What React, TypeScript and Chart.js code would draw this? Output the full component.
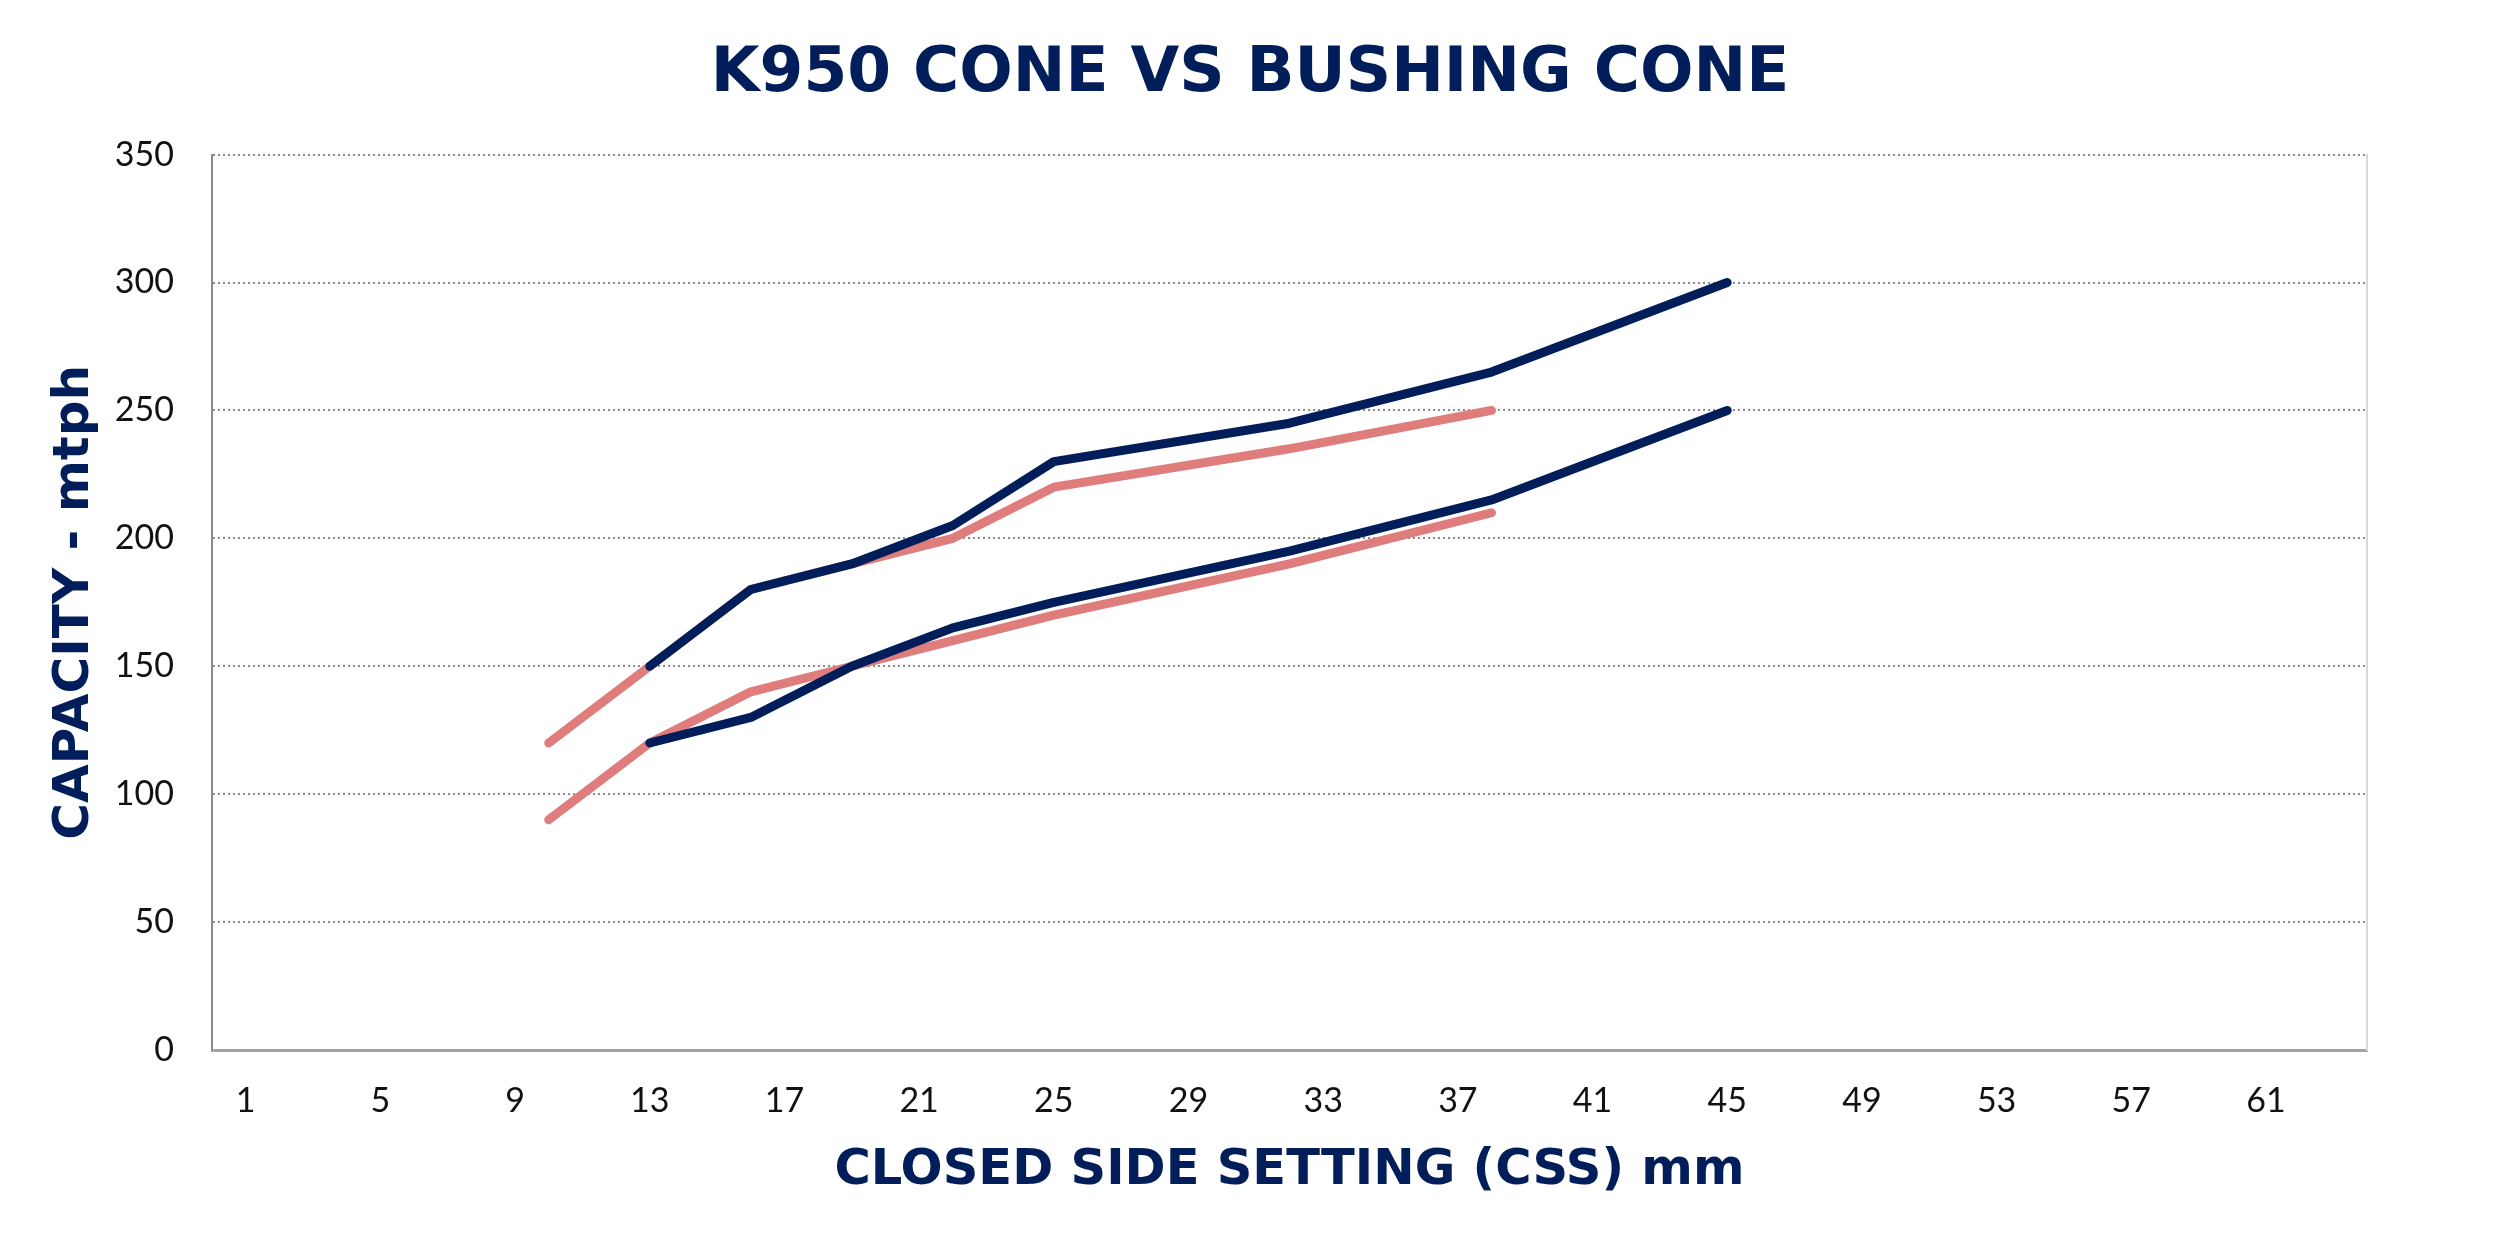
import React, { useEffect, useRef } from "react";
import { Chart, registerables } from "chart.js";

Chart.register(...registerables);

const chartTitle = "K950 CONE VS BUSHING CONE";
const xAxisTitle = "CLOSED SIDE SETTING (CSS) mm";
const yAxisTitle = "CAPACITY - mtph";

const xTickLabels = [1, 5, 9, 13, 17, 21, 25, 29, 33, 37, 41, 45, 49, 53, 57, 61];

const k950X = [13, 16, 19, 22, 25, 32, 38, 45];
const k950High = [150, 180, 190, 205, 230, 245, 265, 300];
const k950Low = [120, 130, 150, 165, 175, 195, 215, 250];

const bushingX = [10, 13, 16, 19, 22, 25, 32, 38];
const bushingHigh = [120, 150, 180, 190, 200, 220, 235, 250];
const bushingLow = [90, 120, 140, 150, 160, 170, 190, 210];

const NAVY = "#021e5a";
const PINK = "#df7c7c";

const toPts = (xs: number[], ys: number[]) => xs.map((x, i) => ({ x, y: ys[i] }));

export default function App() {
  const ref = useRef<HTMLCanvasElement | null>(null);

  useEffect(() => {
    if (!ref.current) return;
    const lineDs = (label: string, xs: number[], ys: number[], color: string) => ({
      label,
      data: toPts(xs, ys),
      borderColor: color,
      backgroundColor: color,
      borderWidth: 9,
      pointRadius: 0,
      tension: 0,
      fill: false,
      borderCapStyle: "round" as const,
      borderJoinStyle: "round" as const,
    });
    const chart = new Chart(ref.current, {
      type: "line",
      data: {
        datasets: [
          lineDs("K950 high", k950X, k950High, NAVY),
          lineDs("K950 low", k950X, k950Low, NAVY),
          lineDs("Bushing high", bushingX, bushingHigh, PINK),
          lineDs("Bushing low", bushingX, bushingLow, PINK),
        ],
      },
      options: {
        responsive: false,
        animation: false,
        devicePixelRatio: 1,
        layout: { padding: 0 },
        plugins: {
          legend: { display: false },
          tooltip: { enabled: false },
          title: {
            display: true,
            text: chartTitle,
            color: NAVY,
            font: { family: "DejaVu Sans", weight: "bold", size: 63, lineHeight: 1.2 },
            padding: { top: 37, bottom: 42 },
          },
        },
        scales: {
          x: {
            type: "linear",
            min: 0,
            max: 64,
            position: "bottom",
            afterBuildTicks: (scale: any) => {
              scale.ticks = xTickLabels.map((v) => ({ value: v }));
            },
            afterFit: (scale: any) => {
              scale.height = 198;
            },
            grid: { display: false, drawTicks: false },
            border: { display: true, color: "#a3a3a3", width: 3 },
            ticks: {
              autoSkip: false,
              maxRotation: 0,
              padding: 31,
              color: "#111111",
              font: { family: "Lato", size: 34 },
            },
            title: {
              display: true,
              text: xAxisTitle,
              color: NAVY,
              font: { family: "DejaVu Sans", weight: "bold", size: 49.5, lineHeight: 1.2 },
              padding: { top: 10, bottom: 47 },
            },
          },
          y: {
            type: "linear",
            min: 0,
            max: 350,
            position: "left",
            afterFit: (scale: any) => {
              scale.width = 212;
            },
            grid: {
              drawTicks: false,
              color: (ctx: any) => (ctx.tick && ctx.tick.value === 0 ? "rgba(0,0,0,0)" : "#8a8a8a"),
              lineWidth: 2,
            },
            border: { display: true, color: "#8a8a8a", width: 2, dash: [2, 3] },
            ticks: {
              stepSize: 50,
              padding: 38,
              color: "#111111",
              font: { family: "Lato", size: 34 },
            },
            title: {
              display: true,
              text: yAxisTitle,
              color: NAVY,
              font: { family: "DejaVu Sans", weight: "bold", size: 50, lineHeight: 1.2 },
              padding: { top: 45, bottom: 10 },
            },
          },
          yRight: {
            type: "linear",
            position: "right",
            afterFit: (scale: any) => {
              scale.width = 133;
            },
            grid: { display: false, drawTicks: false },
            border: { display: true, color: "#d9d9d9", width: 2 },
            ticks: { display: false },
          },
        },
      } as any,
    });
    return () => chart.destroy();
  }, []);

  return (
    <div style={{ position: "absolute", left: 0, top: 0, width: 2500, height: 1248, background: "#ffffff" }}>
      <canvas ref={ref} width={2500} height={1248} />
    </div>
  );
}
